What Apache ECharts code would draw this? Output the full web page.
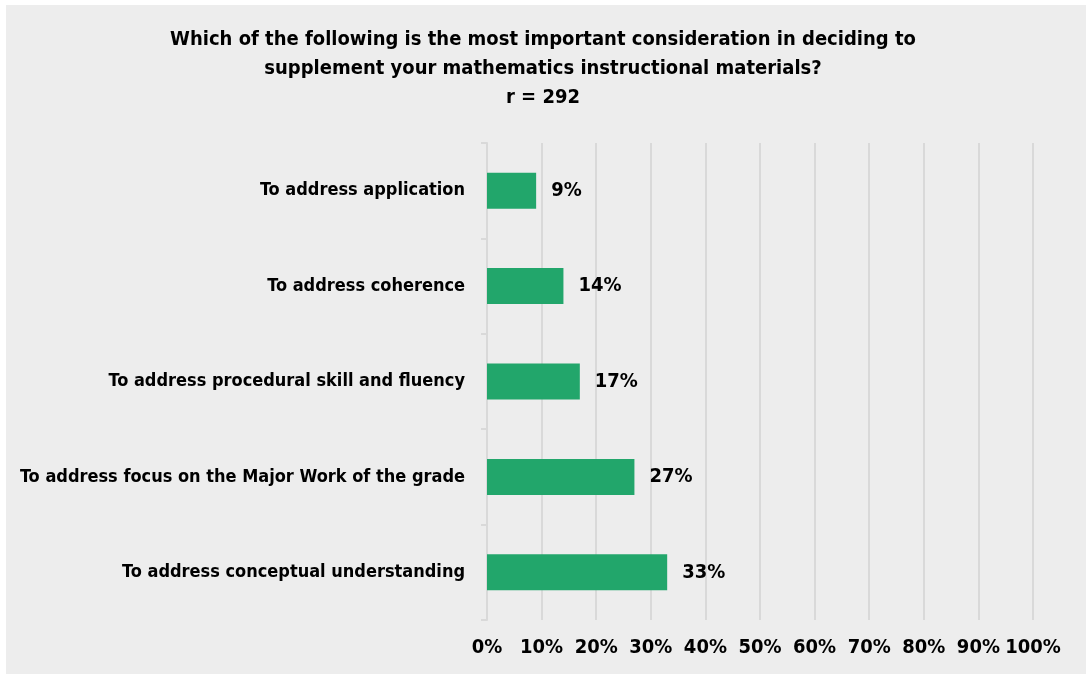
<!DOCTYPE html>
<html><head><meta charset="utf-8">
<script src="https://cdn.jsdelivr.net/npm/echarts@6/dist/echarts.min.js"></script>
<style>html,body{margin:0;padding:0;background:#fff;}#c{width:1086px;height:674px;}</style>
</head><body><div id="c"></div>
<script>
var titleLines = ['Which of the following is the most important consideration in deciding to', 'supplement your mathematics instructional materials?', 'r = 292'];
var categories = ['To address conceptual understanding', 'To address focus on the Major Work of the grade', 'To address procedural skill and fluency', 'To address coherence', 'To address application'];
var values = [33, 27, 17, 14, 9];
var tickLabels = ['0%', '10%', '20%', '30%', '40%', '50%', '60%', '70%', '80%', '90%', '100%'];

var FONT = '"Liberation Sans Narrow", "DejaVu Sans Condensed", "Liberation Sans", sans-serif';
var chart = echarts.init(document.getElementById('c'));
chart.setOption({
  backgroundColor: '#ffffff',
  animation: false,
  graphic: [{type: 'rect', shape: {x: 6, y: 5, width: 1080, height: 669}, style: {fill: '#ededed'}, z: -10, silent: true}],
  title: {
    text: titleLines.join('\n'), left: 'center', top: 20,
    textStyle: {fontFamily: FONT, fontWeight: 'bold', fontSize: 20, lineHeight: 29, color: '#000'}
  },
  grid: {left: 487, right: 53, top: 143, bottom: 54, containLabel: false, outerBoundsMode: 'none'},
  xAxis: {
    type: 'value', min: 0, max: 100, interval: 10,
    axisLine: {show: false}, axisTick: {show: false},
    splitLine: {show: true, lineStyle: {color: '#d9d9d9', width: 2}},
    axisLabel: {formatter: function (v) { return tickLabels[Math.round(v / 10)]; }, margin: 18,
      fontFamily: FONT, fontWeight: 'bold', fontSize: 20, color: '#000'}
  },
  yAxis: {
    type: 'category', data: categories,
    axisLine: {show: true, lineStyle: {color: '#d9d9d9', width: 2}},
    axisTick: {show: true, length: 6, lineStyle: {color: '#d9d9d9', width: 2}},
    axisLabel: {margin: 22, fontFamily: FONT, fontWeight: 'bold', fontSize: 18, color: '#000'}
  },
  series: [{
    type: 'bar', data: values, barWidth: 36,
    itemStyle: {color: '#22a66b'},
    label: {show: true, position: 'right', distance: 15, formatter: '{c}%',
      fontFamily: FONT, fontWeight: 'bold', fontSize: 20, color: '#000'}
  }]
});
</script></body></html>
